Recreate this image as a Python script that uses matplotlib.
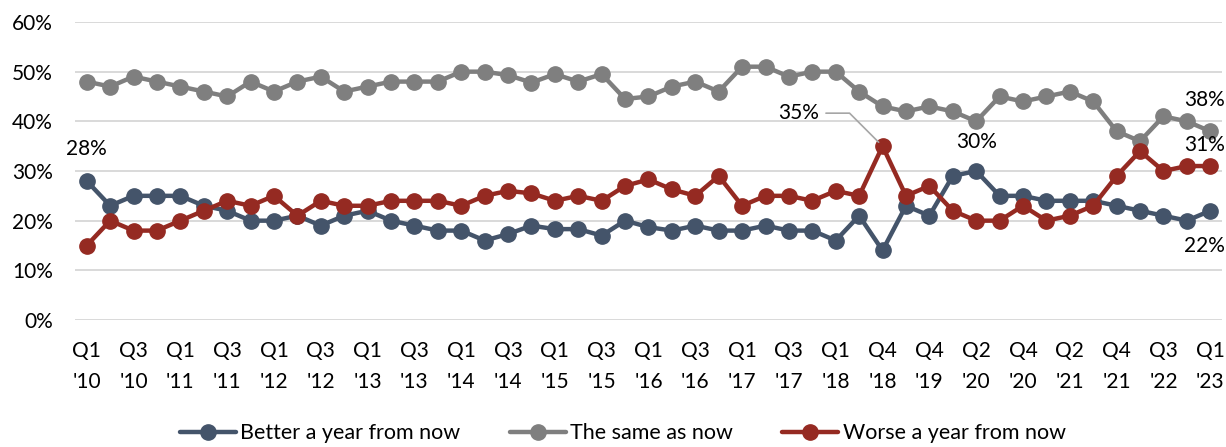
import matplotlib
matplotlib.use("Agg")
import matplotlib.pyplot as plt
from matplotlib.ticker import PercentFormatter

plt.rcParams['font.family'] = ['Lato', 'DejaVu Sans']

# Share of respondents expecting their situation a year from now to be ...
better = [28, 23, 25, 25, 25, 23, 22, 20, 20, 21, 19, 21, 22, 20, 19, 18, 18, 16,
          17.3, 19, 18.3, 18.3, 17, 20, 18.7, 18, 19, 18, 18, 19, 18, 18, 16, 21,
          14, 23, 21, 29, 30, 25, 25, 24, 24, 24, 23, 22, 21, 20, 22]
same = [48, 47, 49, 48, 47, 46, 45, 48, 46, 48, 49, 46, 47, 48, 48, 48, 50, 50,
        49.3, 47.8, 49.5, 48, 49.5, 44.5, 45, 47, 48, 46, 51, 51, 49, 50, 50, 46,
        43, 42, 43, 42, 40, 45, 44, 45, 46, 44, 38, 36, 41, 40, 38]
worse = [15, 20, 18, 18, 20, 22, 24, 23, 25, 21, 24, 23, 23, 24, 24, 24, 23, 25,
         26, 25.5, 24, 25, 24, 27, 28.3, 26.3, 25, 29, 23, 25, 25, 24, 26, 25,
         35, 25, 27, 22, 20, 20, 23, 20, 21, 23, 29, 34, 30, 31, 31]

tick_labels = ["Q1\n'10", "Q3\n'10", "Q1\n'11", "Q3\n'11", "Q1\n'12", "Q3\n'12",
               "Q1\n'13", "Q3\n'13", "Q1\n'14", "Q3\n'14", "Q1\n'15", "Q3\n'15",
               "Q1\n'16", "Q3\n'16", "Q1\n'17", "Q3\n'17", "Q1\n'18", "Q4\n'18",
               "Q4\n'19", "Q2\n'20", "Q4\n'20", "Q2\n'21", "Q4\n'21", "Q3\n'22",
               "Q1\n'23"]

series_names = ["Better a year from now", "The same as now", "Worse a year from now"]
colors = ["#44546A", "#7F7F7F", "#952A22"]

FS = 15

fig = plt.figure(figsize=(12.26, 4.47), dpi=100)
ax = fig.add_axes([0.0612, 0.2841, 0.9355, 0.6667])

x = list(range(len(better)))
for vals, name, col in zip([better, same, worse], series_names, colors):
    ax.plot(x, vals, color=col, lw=3.2, marker='o', ms=11, label=name,
            solid_capstyle='round', clip_on=False)

ax.set_xlim(-0.5, len(better) - 0.5)
ax.set_ylim(0, 60)
ax.set_yticks(range(0, 61, 10))
ax.yaxis.set_major_formatter(PercentFormatter(decimals=0))
ax.set_xticks(list(range(0, len(better), 2)))
ax.set_xticklabels(tick_labels, linespacing=1.7)
ax.tick_params(axis='both', length=0, labelsize=FS, colors='black')
ax.tick_params(axis='x', pad=15)
ax.tick_params(axis='y', pad=16)
ax.grid(axis='y', color='#D9D9D9', lw=1.4)
ax.set_axisbelow(True)
for s in ax.spines.values():
    s.set_visible(False)

def label(idx, vals, text_dy, dx=0):
    ax.annotate(f"{vals[idx]:.0f}%", xy=(idx, vals[idx]), xytext=(dx, text_dy),
                textcoords='offset pixels', ha='center', va='center',
                fontsize=FS, annotation_clip=False)

label(0, better, 32)
label(38, better, 29)
label(48, same, 31, dx=-6)
label(48, worse, 21, dx=-6)
label(48, better, -35, dx=-6)

# Peak of the "worse" series, with a leader line
ax.annotate(f"{worse[34]:.0f}%", xy=(34, worse[34]), xytext=(-84, 33),
            textcoords='offset pixels', ha='center', va='center',
            fontsize=FS,
            arrowprops=dict(arrowstyle='-', color='#A6A6A6', lw=1.2,
                            shrinkA=3, shrinkB=4,
                            connectionstyle='angle,angleA=0,angleB=135,rad=0'))

fig.legend(loc='center', bbox_to_anchor=(0.508, 0.031), ncol=3, frameon=False,
           fontsize=FS + 0.5, handlelength=2.6, handletextpad=0.2,
           columnspacing=2.3, borderaxespad=0)

fig.savefig("out.png", dpi=100)
